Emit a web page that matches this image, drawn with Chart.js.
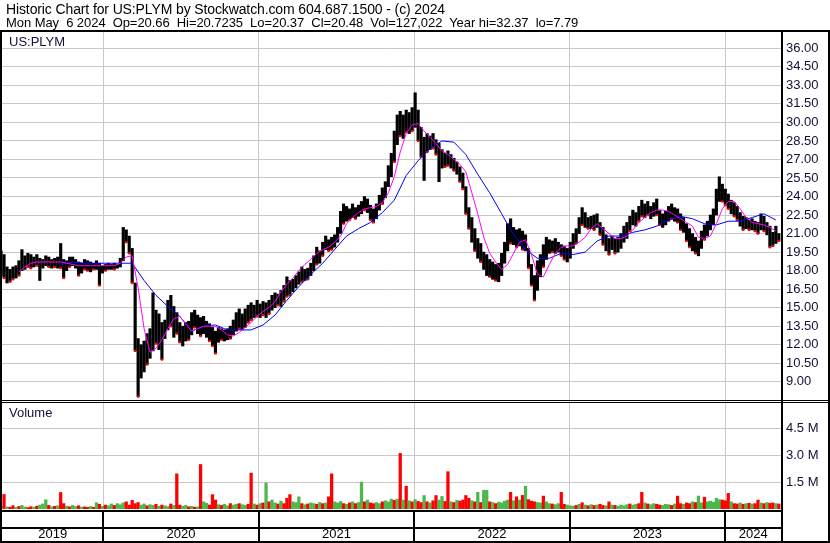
<!DOCTYPE html>
<html>
<head>
<meta charset="utf-8">
<script src="https://cdn.jsdelivr.net/npm/chart.js@4.4.1/dist/chart.umd.min.js"></script>
<style>
  html, body { margin: 0; padding: 0; background: #fff; }
  #wrap { position: relative; width: 830px; height: 543px; overflow: hidden; font-family: "Liberation Sans", Arial, sans-serif; }
  #wrap canvas { position: absolute; left: 0; top: 0; }
  .txt { position: absolute; white-space: pre; font-size: 13px; line-height: 14px; color: #000; }
  .panel { color: #101038; }
</style>
</head>
<body>
<div id="wrap">
  <canvas id="stockChart" width="830" height="543"></canvas>
  <div class="txt" style="left:6px;top:2px;font-size:14px;letter-spacing:-0.12px">Historic Chart for US:PLYM by Stockwatch.com 604.687.1500 - (c) 2024</div>
  <div class="txt" style="left:6px;top:16px;letter-spacing:-0.06px">Mon May  6 2024  Op=20.66  Hi=20.7235  Lo=20.37  Cl=20.48  Vol=127,022  Year hi=32.37  lo=7.79</div>
  <div class="txt panel" style="left:9px;top:35px">US:PLYM</div>
  <div class="txt panel" style="left:9px;top:406px">Volume</div>
</div>
<script>
// weekly bars, first week starts Mon May 6 2019
const firstWeek = [2019, 4, 6];

const priceHigh = [
  19.6, 19.3, 18.3, 18.1, 18.3, 18.4, 18.8, 19.7, 19.2, 19.4,
  19.3, 19.1, 19.3, 19.0, 18.9, 19.2, 19.1, 18.9, 19.0, 19.1,
  20.2, 18.9, 18.8, 19.1, 19.1, 18.9, 18.7, 18.6, 18.9, 18.8,
  18.7, 18.6, 18.8, 18.6, 18.4, 18.5, 18.6, 18.5, 18.6, 18.5,
  19.0, 21.5, 21.3, 20.8, 19.8, 17.0, 12.5, 12.0, 12.3, 12.9,
  13.3, 16.2, 14.8, 14.5, 13.8, 14.0, 15.6, 16.0, 15.1, 14.6,
  13.8, 13.5, 13.8, 13.9, 14.6, 14.8, 14.4, 14.2, 14.3, 13.9,
  13.7, 13.4, 13.1, 13.4, 13.3, 13.2, 13.3, 13.5, 14.0, 14.6,
  14.9, 14.5, 14.9, 15.2, 15.4, 15.2, 15.6, 15.3, 15.5, 15.4,
  15.6, 16.0, 16.2, 16.1, 16.4, 16.8, 17.5, 17.2, 17.3, 17.6,
  17.9, 18.3, 18.1, 18.2, 18.6, 19.2, 19.9, 19.6, 20.3, 20.8,
  20.5, 20.7, 20.9, 21.5, 22.8, 23.4, 23.2, 23.0, 23.4, 23.1,
  23.3, 23.6, 24.0, 23.8, 23.3, 23.0, 23.4, 24.1, 24.7, 25.2,
  26.5, 27.5, 29.3, 30.6, 30.9, 30.6, 31.0, 30.8, 31.2, 32.4,
  31.0, 29.6, 28.8, 29.1, 28.9, 29.1, 28.6, 28.3, 27.8, 27.5,
  27.7, 27.4, 27.1, 26.8, 26.4, 25.9, 24.8, 23.1, 22.3, 21.4,
  20.6, 20.2, 19.5, 19.3, 18.9, 18.7, 18.5, 18.6, 19.4, 20.3,
  21.8, 22.2, 21.5, 21.3, 21.4, 21.2, 20.9, 19.8, 18.5, 17.6,
  18.8, 19.3, 20.1, 20.7, 20.5, 20.4, 20.6, 20.3, 20.1, 20.0,
  19.8, 20.3, 21.0, 21.4, 22.3, 23.1, 22.7, 22.3, 22.4, 22.5,
  22.6, 21.9, 21.5, 20.9, 20.6, 20.8, 20.6, 20.7, 21.0, 21.6,
  21.9, 22.4, 22.9, 22.7, 23.2, 23.7, 23.4, 23.6, 23.2, 23.5,
  23.8, 22.9, 22.6, 22.8, 23.2, 23.4, 23.1, 23.0, 22.6, 22.3,
  21.8, 21.4, 21.0, 20.7, 20.4, 21.2, 21.7, 22.0, 22.5, 23.0,
  24.6, 25.6, 25.0, 24.6, 24.2, 23.7, 23.5, 23.2, 22.7, 22.4,
  22.3, 22.1, 22.2, 22.0, 21.9, 22.6, 22.4, 21.9, 21.6, 21.1,
  21.6, 21.0
];

const priceLow = [
  17.6, 17.4, 17.0, 17.1, 17.3, 17.4, 17.6, 18.0, 18.1, 18.3,
  18.2, 18.3, 18.4, 17.2, 18.2, 18.4, 18.3, 18.2, 18.3, 18.2,
  18.2, 17.4, 18.0, 18.3, 18.4, 18.2, 17.6, 17.8, 18.1, 18.0,
  17.9, 18.1, 18.1, 16.8, 17.8, 18.0, 18.1, 18.1, 18.1, 18.2,
  18.3, 18.8, 20.3, 19.4, 17.0, 11.5, 7.8, 9.3, 9.8, 10.4,
  10.9, 11.5, 12.1, 11.6, 10.8, 12.5, 13.2, 13.5, 12.6, 12.9,
  12.2, 11.9, 12.3, 12.4, 12.8, 13.4, 12.9, 12.7, 12.9, 12.6,
  12.3, 11.9, 11.3, 12.2, 12.4, 12.3, 12.4, 12.5, 12.8, 13.1,
  13.3, 13.2, 13.4, 13.8, 14.0, 14.2, 14.3, 14.2, 14.4, 14.2,
  14.5, 14.8, 15.0, 15.2, 15.1, 15.5, 15.9, 16.0, 16.3, 16.6,
  16.9, 17.1, 17.2, 17.3, 17.6, 18.0, 18.5, 18.6, 19.2, 19.7,
  19.6, 19.7, 19.9, 20.3, 21.0, 21.8, 22.0, 22.1, 22.3, 22.2,
  22.4, 22.6, 22.9, 22.7, 22.1, 21.9, 22.2, 22.9, 23.4, 23.9,
  24.8, 25.6, 26.8, 28.2, 28.9, 28.7, 29.2, 29.1, 29.3, 29.6,
  28.5, 27.2, 25.3, 27.6, 27.8, 27.9, 27.4, 25.2, 26.3, 26.4,
  26.5, 26.3, 26.1, 25.8, 25.2, 24.6, 22.6, 21.4, 20.3, 19.6,
  19.0, 18.7, 18.1, 17.6, 17.5, 17.3, 17.2, 17.1, 17.6, 18.6,
  19.6, 20.2, 20.1, 19.9, 20.0, 19.7, 19.6, 18.2, 16.8, 15.6,
  16.4, 17.5, 18.3, 18.9, 19.4, 19.5, 19.4, 19.5, 19.2, 18.9,
  18.7, 19.0, 19.8, 20.2, 21.0, 21.7, 21.5, 21.4, 21.4, 21.3,
  21.5, 20.9, 20.1, 19.6, 19.3, 19.7, 19.4, 19.5, 19.8, 20.3,
  20.6, 21.2, 21.7, 21.6, 22.0, 22.4, 22.3, 22.5, 22.2, 22.4,
  22.5, 21.7, 21.5, 21.7, 22.0, 22.2, 22.0, 21.9, 21.3, 21.1,
  20.4, 19.9, 19.6, 19.4, 19.2, 19.8, 20.5, 20.8, 21.3, 21.7,
  22.5, 23.6, 23.6, 23.3, 23.0, 22.6, 22.4, 22.1, 21.6, 21.3,
  21.4, 21.3, 21.3, 21.2, 21.0, 21.3, 21.2, 20.9, 19.9, 20.0,
  20.2, 20.4
];

// moving averages: short one sampled every 2 weeks, long one every 4 weeks
const maShort = [
  null, null, null, 17.9, 18.3, 18.6, 18.7, 18.7, 18.7, 18.7,
  18.7, 18.6, 18.5, 18.4, 18.4, 18.4, 18.4, 18.4, 18.4, 18.4,
  18.6, 19.1, 19.2, 16.6, 13.3, 11.4, 11.7, 12.4, 13.3, 14.1,
  14.3, 13.7, 13.1, 13.3, 13.5, 13.5, 13.5, 13.2, 12.8, 12.7,
  13.0, 13.4, 13.8, 14.3, 14.7, 15.0, 15.5, 16.3, 16.9, 17.4,
  18.0, 18.5, 18.9, 19.4, 19.7, 19.9, 20.3, 20.8, 21.8, 22.3,
  22.7, 23.0, 23.1, 23.2, 23.5, 24.3, 25.6, 27.6, 29.1, 29.8,
  29.9, 29.3, 28.8, 28.3, 27.7, 27.4, 27.0, 26.6, 26.0, 24.3,
  22.6, 20.7, 19.4, 18.7, 18.1, 18.5, 19.4, 20.3, 20.5, 19.3,
  17.7, 17.5, 18.5, 19.4, 19.9, 20.0, 20.0, 20.3, 20.7, 21.4,
  21.8, 21.4, 21.0, 20.6, 20.6, 20.8, 21.3, 21.9, 22.3, 22.7,
  22.9, 22.9, 22.8, 22.5, 22.2, 21.9, 21.6, 20.7, 20.6, 20.8,
  21.8, 23.0, 23.6, 23.6, 23.0, 22.3, 21.9, 21.8, 21.7, 21.5,
  21.2
];
const maLong = [
  null, null, null, null, null, 18.5, 18.7, 18.6, 18.6, 18.6,
  18.6, 18.6, 17.2, 16.0, 15.1, 14.3, 13.1, 13.5, 13.6, 13.2,
  13.2, 13.2, 13.6, 14.4, 15.6, 16.7, 17.7, 18.6, 19.7, 20.8,
  21.4, 21.9, 22.7, 23.7, 25.7, 26.9, 27.9, 28.5, 28.4, 27.4,
  25.8, 24.3, 22.6, 20.9, 19.7, 19.0, 19.0, 19.4, 19.3, 19.5,
  20.4, 20.8, 20.8, 21.1, 21.3, 21.6, 22.1, 22.4, 22.2, 21.8,
  21.7, 22.0, 22.0, 22.3, 22.6, 22.1
];

// weekly volume in millions, u = up week (green), d = down week (red)
const volume = [
  0.15, 0.81, 0.12, 0.10, 0.18, 0.09, 0.14, 0.20, 0.11, 0.08,
  0.13, 0.10, 0.16, 0.22, 0.28, 0.52, 0.20, 0.12, 0.15, 0.18,
  0.92, 0.30, 0.16, 0.12, 0.20, 0.14, 0.18, 0.10, 0.12, 0.09,
  0.14, 0.10, 0.35, 0.26, 0.15, 0.22, 0.18, 0.28, 0.20, 0.30,
  0.24, 0.34, 0.40, 0.22, 0.48, 0.30, 0.36, 0.22, 0.28, 0.18,
  0.24, 0.20, 0.26, 0.16, 0.22, 0.18, 0.14, 0.28, 0.20, 1.96,
  0.22, 0.16, 0.20, 0.12, 0.15, 0.10, 0.12, 2.48, 0.40, 0.32,
  0.22, 0.80, 0.50, 0.24, 0.20, 0.26, 0.18, 0.30, 0.22, 0.26,
  0.30, 0.24, 0.20, 0.26, 2.00, 0.28, 0.22, 0.30, 0.34, 1.44,
  0.40, 0.50, 0.34, 0.28, 0.44, 0.30, 0.60, 0.80, 0.40, 0.36,
  0.68, 0.30, 0.24, 0.28, 0.34, 0.30, 0.26, 0.36, 0.30, 0.34,
  0.68, 1.96, 0.40, 0.34, 0.42, 0.30, 0.26, 0.34, 0.40, 0.30,
  0.36, 1.50, 0.40, 0.50, 0.34, 0.30, 0.36, 0.30, 0.40, 0.46,
  0.40, 0.55, 0.48, 0.55, 3.10, 0.50, 1.27, 0.46, 0.40, 0.52,
  0.42, 0.36, 0.75, 0.40, 0.34, 0.46, 0.75, 0.50, 0.70, 0.42,
  2.08, 0.40, 0.36, 0.48, 0.44, 0.50, 0.75, 0.60, 0.46, 0.40,
  0.93, 0.36, 1.04, 1.04, 0.40, 0.36, 0.30, 0.38, 0.34, 0.44,
  0.50, 0.93, 0.46, 0.68, 0.50, 0.76, 1.27, 0.52, 0.44, 0.40,
  0.36, 0.34, 0.72, 0.40, 0.30, 0.28, 0.24, 0.30, 0.93, 0.26,
  0.22, 0.18, 0.16, 0.20, 0.26, 0.35, 0.22, 0.18, 0.24, 0.20,
  0.22, 0.26, 0.20, 0.18, 0.40, 0.22, 0.20, 0.16, 0.22, 0.18,
  0.24, 0.28, 0.22, 0.26, 0.30, 0.93, 0.34, 0.28, 0.24, 0.30,
  0.26, 0.22, 0.20, 0.26, 0.24, 0.20, 0.28, 0.72, 0.30, 0.26,
  0.34, 0.30, 0.40, 0.36, 0.72, 0.34, 0.66, 0.40, 0.44, 0.38,
  0.60, 0.52, 0.50, 0.46, 0.87, 0.40, 0.30, 0.28, 0.34, 0.26,
  0.30, 0.32, 0.28, 0.30, 0.50, 0.34, 0.30, 0.36, 0.32, 0.34,
  0.30, 0.28
];
const volumeDir = (
  'ududduduud' + 'duduuududu' + 'dduduududd' + 'udududuudu' + 'uuddddduud' +
  'uududuudud' + 'duudududuu' + 'ddduduuduu' + 'duuddududu' + 'duududdduu' +
  'ududuududu' + 'dduuududud' + 'uududduudu' + 'uududududu' + 'ddududduud' +
  'dududdddud' + 'uduududuuu' + 'ududududdd' + 'uuduuduudd' + 'uuudududud' +
  'uddududuuu' + 'uduudduduu' + 'dduuududdu' + 'dduduuduuu' + 'uuddduddud' +
  'ududdududd' + 'ud'
).split('');

const priceTicks = [9, 10.5, 12, 13.5, 15, 16.5, 18, 19.5, 21, 22.5, 24, 25.5, 27, 28.5, 30, 31.5, 33, 34.5, 36];
const volumeTicks = [1.5, 3.0, 4.5];
const years = ['2019', '2020', '2021', '2022', '2023', '2024'];

function decimalYear(d) {
  const y = d.getFullYear();
  const a = new Date(y, 0, 1), b = new Date(y + 1, 0, 1);
  return y + (d - a) / (b - a);
}
function weekX(i) {
  return decimalYear(new Date(firstWeek[0], firstWeek[1], firstWeek[2] + 7 * i));
}

const X_MIN = 2019.3486;
const X_MAX = 2024.3582;
const yearStarts = years.slice(1).map(Number);
const yearMids = years.map(y => {
  const a = Math.max(Number(y), X_MIN);
  const b = Math.min(Number(y) + 1, X_MAX);
  return (a + b) / 2;
});

const pricePoints = priceHigh.map((h, i) => ({ x: weekX(i), y: [priceLow[i], h] }));
// red tick on the low of each down week
const downMarks = priceLow.map((l, i) => volumeDir[i] === 'd' ? { x: weekX(i), y: l } : null).filter(Boolean);
const volumePoints = volume.map((v, i) => ({ x: weekX(i), y: v }));
const volumeColors = volumeDir.map(d => d === 'u' ? '#4cb84c' : '#ff0000');
const maShortPoints = maShort.map((v, k) => v == null ? null : { x: weekX(k * 2), y: v }).filter(Boolean);
const maLongPoints = maLong.map((v, k) => v == null ? null : { x: weekX(k * 4), y: v }).filter(Boolean);

const GRID = '#c8c8c8';
const AXIS_TEXT = '#101038';

const framePlugin = {
  id: 'frame',
  afterDraw(chart) {
    const ctx = chart.ctx;
    const xs = chart.scales.x;
    ctx.save();
    ctx.fillStyle = '#000';
    ctx.fillRect(0, 30, 830, 2);
    ctx.fillRect(0, 30, 2, 513);
    ctx.fillRect(781, 30, 2, 513);
    ctx.fillRect(828, 30, 2, 513);
    ctx.fillRect(0, 400, 830, 1);
    ctx.fillRect(0, 402, 830, 1);
    ctx.fillRect(0, 510, 783, 2);
    ctx.fillRect(0, 527, 783, 2);
    ctx.fillRect(0, 541, 830, 2);
    yearStarts.forEach(v => {
      const px = Math.round(xs.getPixelForValue(v));
      ctx.fillRect(px - 1, 512, 2, 30);
    });
    ctx.restore();
  }
};

Chart.defaults.font.family = '"Liberation Sans", Arial, sans-serif';

new Chart(document.getElementById('stockChart'), {
  type: 'scatter',
  data: {
    datasets: [
      {
        type: 'line', label: 'MA short', data: maShortPoints,
        borderColor: '#ff00ff', borderWidth: 1, pointRadius: 0, tension: 0,
        xAxisID: 'x', yAxisID: 'y', order: 0
      },
      {
        type: 'line', label: 'MA long', data: maLongPoints,
        borderColor: '#0000ff', borderWidth: 1, pointRadius: 0, tension: 0,
        xAxisID: 'x', yAxisID: 'y', order: 1
      },
      {
        type: 'scatter', label: 'Down', data: downMarks,
        pointStyle: 'rect', pointRadius: 1.6, pointBorderWidth: 0,
        pointBackgroundColor: '#ff0000', backgroundColor: '#ff0000',
        xAxisID: 'x', yAxisID: 'y', order: 2
      },
      {
        type: 'bar', label: 'Price', data: pricePoints,
        backgroundColor: '#000', barThickness: 2.5, grouped: false,
        xAxisID: 'x', yAxisID: 'y', order: 3
      },
      {
        type: 'bar', label: 'Volume', data: volumePoints,
        backgroundColor: volumeColors, barThickness: 2.6, grouped: false,
        xAxisID: 'x', yAxisID: 'yv', order: 4
      }
    ]
  },
  options: {
    responsive: false,
    animation: false,
    events: [],
    layout: { autoPadding: false, padding: { left: 2, right: 2, top: 32, bottom: 2 } },
    plugins: { legend: { display: false }, tooltip: { enabled: false } },
    scales: {
      x: {
        type: 'linear', position: 'bottom', min: X_MIN, max: X_MAX,
        offset: false,
        afterBuildTicks: s => { s.ticks = yearStarts.map(v => ({ value: v })); },
        afterFit: s => { s.height = 18; },
        grid: { color: GRID, lineWidth: 1, drawTicks: false, offset: false },
        border: { display: false },
        ticks: { display: false }
      },
      x2: {
        type: 'linear', position: 'bottom', min: X_MIN, max: X_MAX,
        offset: false,
        afterBuildTicks: s => { s.ticks = yearMids.map(v => ({ value: v })); },
        afterFit: s => { s.height = 14; },
        grid: { display: false, drawTicks: false, offset: false },
        border: { display: false },
        ticks: {
          autoSkip: false, maxRotation: 0, padding: 0,
          color: '#000', font: { size: 13 },
          callback: (v, i) => years[i]
        }
      },
      y: {
        type: 'linear', position: 'right', stack: 'panels', stackWeight: 369,
        min: 7.445, max: 37.32,
        afterBuildTicks: s => { s.ticks = priceTicks.map(v => ({ value: v })); },
        afterFit: s => { s.width = 47; },
        grid: { color: GRID, lineWidth: 1, drawTicks: false },
        border: { display: false },
        ticks: {
          autoSkip: false, padding: 5, color: AXIS_TEXT, font: { size: 13 },
          callback: v => Number(v).toFixed(2)
        }
      },
      yv: {
        type: 'linear', position: 'right', stack: 'panels', stackWeight: 108,
        min: 0, max: 6.02,
        afterBuildTicks: s => { s.ticks = volumeTicks.map(v => ({ value: v })); },
        afterFit: s => { s.width = 47; },
        grid: { color: GRID, lineWidth: 1, drawTicks: false },
        border: { display: false },
        ticks: {
          autoSkip: false, padding: 5, color: AXIS_TEXT, font: { size: 13 },
          callback: v => Number(v).toFixed(1) + ' M'
        }
      }
    }
  },
  plugins: [framePlugin]
});
</script>
</body>
</html>
